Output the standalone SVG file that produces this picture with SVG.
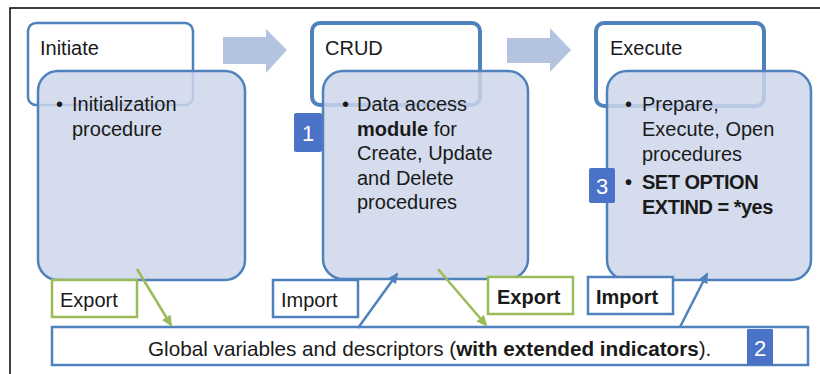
<svg xmlns="http://www.w3.org/2000/svg" width="820" height="374" viewBox="0 0 820 374">
<defs>
<style>
text{font-family:"Liberation Sans",Arial,sans-serif;fill:#1a1a1a}
.title{fill:#fff;stroke:#4F81BD}
.body{fill:#CDD6EA;fill-opacity:0.85;stroke:#4F81BD;stroke-width:2.5}
.t20{font-size:20px}
.badge{fill:#4A72C6}
.btxt{font-size:22px;fill:#fff;text-anchor:middle}
.flow{fill:#B4C3E0}
.gbox{fill:#fff;stroke:#9BBB59;stroke-width:2.5}
.bbox{fill:#fff;stroke:#4F81BD;stroke-width:2.5}
.gline{stroke:#9BBB59;stroke-width:2.5;fill:none}
.bline{stroke:#4F81BD;stroke-width:2.5;fill:none}
</style>
<marker id="ag" markerWidth="11" markerHeight="10" refX="9" refY="5" orient="auto" markerUnits="userSpaceOnUse" viewBox="0 0 11 10"><path d="M0,0 L11,5 L0,10 z" fill="#9BBB59"/></marker>
<marker id="ab" markerWidth="11" markerHeight="10" refX="9" refY="5" orient="auto" markerUnits="userSpaceOnUse" viewBox="0 0 11 10"><path d="M0,0 L11,5 L0,10 z" fill="#4F81BD"/></marker>
</defs>
<rect width="820" height="374" fill="#fff"/>
<path d="M10,374 L10,8 L820,8" fill="none" stroke="#000" stroke-width="1.5"/>

<g id="flow-arrows">
<path class="flow" d="M223,37 L266,37 L266,29 L287,50 L266,73 L266,64 L223,64 z"/>
<path class="flow" d="M507,38 L550,38 L550,28 L571,50 L550,72 L550,63 L507,63 z"/>
</g>

<g id="initiate">
<rect class="title" x="28" y="23" width="165" height="82" rx="8" stroke-width="2.5"/>
<text class="t20" x="40" y="55">Initiate</text>
<rect class="body" x="38" y="71" width="207" height="209" rx="20"/>
<text class="t20" x="56" y="111">•</text>
<text class="t20" x="72" y="111">Initialization</text>
<text class="t20" x="72" y="136">procedure</text>
</g>

<g id="crud">
<rect class="title" x="312" y="23" width="168" height="82" rx="8" stroke-width="4"/>
<text class="t20" x="325" y="55">CRUD</text>
<rect class="body" x="323" y="71" width="205" height="208" rx="20"/>
<text class="t20" x="342" y="111">•</text>
<text class="t20" x="357" y="111">Data access</text>
<text class="t20" x="357" y="135.5"><tspan font-weight="bold">module</tspan> for</text>
<text class="t20" x="357" y="160">Create, Update</text>
<text class="t20" x="357" y="184.5">and Delete</text>
<text class="t20" x="357" y="209">procedures</text>
</g>

<g id="execute">
<rect class="title" x="596" y="23" width="168" height="83" rx="8" stroke-width="4"/>
<text class="t20" x="610" y="55">Execute</text>
<rect class="body" x="607" y="71" width="204" height="209" rx="20"/>
<text class="t20" x="625" y="111">•</text>
<text class="t20" x="642" y="111">Prepare,</text>
<text class="t20" x="642" y="136">Execute, Open</text>
<text class="t20" x="642" y="161">procedures</text>
<text class="t20" x="625" y="189" font-weight="bold">•</text>
<text class="t20" x="642" y="189" font-weight="bold" letter-spacing="-0.5">SET OPTION</text>
<text class="t20" x="642" y="214" font-weight="bold" letter-spacing="-0.5">EXTIND = *yes</text>
</g>

<g id="badge-1">
<rect class="badge" x="294" y="113" width="28" height="39" rx="2"/>
<text class="btxt" x="308" y="141">1</text>
</g>
<g id="badge-3">
<rect class="badge" x="589" y="168" width="26" height="35" rx="2"/>
<text class="btxt" x="602" y="194">3</text>
</g>

<g id="export-1">
<rect class="gbox" x="52" y="280" width="85" height="37"/>
<text class="t20" x="60" y="307">Export</text>
</g>
<g id="import-1">
<rect class="bbox" x="273" y="280" width="85" height="37"/>
<text class="t20" x="281" y="307">Import</text>
</g>
<g id="export-2">
<rect class="gbox" x="488" y="277" width="85" height="37"/>
<text class="t20" x="497" y="304" font-weight="bold">Export</text>
</g>
<g id="import-2">
<rect class="bbox" x="588" y="277" width="85" height="37"/>
<text class="t20" x="596" y="304" font-weight="bold">Import</text>
</g>

<g id="global">
<rect class="bbox" x="52" y="327" width="756" height="38"/>
<text x="148" y="356" font-size="20.7">Global variables and descriptors (<tspan font-weight="bold">with extended indicators</tspan>).</text>
</g>
<g id="badge-2">
<rect class="badge" x="747" y="329" width="26" height="36" rx="1"/>
<text class="btxt" x="760" y="356">2</text>
</g>

<g id="connectors">
<line class="gline" x1="137" y1="269" x2="171" y2="325" marker-end="url(#ag)"/>
<line class="bline" x1="358" y1="328" x2="397" y2="274" marker-end="url(#ab)"/>
<line class="gline" x1="438" y1="269" x2="486" y2="325" marker-end="url(#ag)"/>
<line class="bline" x1="680" y1="327" x2="707" y2="274" marker-end="url(#ab)"/>
</g>
</svg>
